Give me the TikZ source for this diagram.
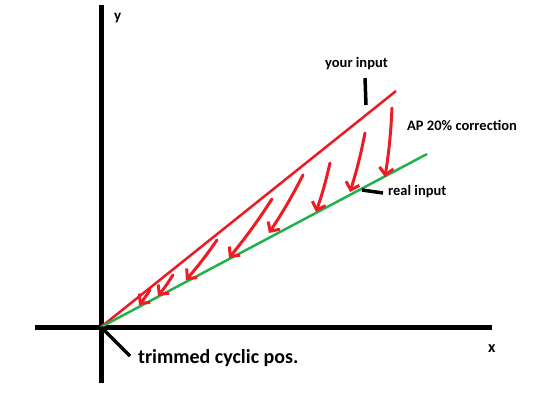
\documentclass[tikz,border=0pt]{standalone}
\usepackage{fontspec}
\setmainfont{Carlito}
\usetikzlibrary{arrows.meta}
\definecolor{pred}{RGB}{237,28,36}
\definecolor{pgreen}{RGB}{34,177,76}
\tikzset{
  axis/.style={line width=5pt,black},
  redline/.style={line width=2.5pt,pred},
  greenline/.style={line width=2.5pt,pgreen},
  corr/.style={line width=3pt,pred,line cap=round,-{Straight Barb[length=7pt,width=14pt]}},
  pointer/.style={line width=3.5pt,black},
  lbl/.style={inner sep=0pt,font=\bfseries\fontsize{14.5}{16}\selectfont,anchor=base west},
}
\begin{document}
\begin{tikzpicture}[x=1pt,y=-1pt]
\useasboundingbox (0,0) rectangle (542,394);
% axes
\coordinate (O) at (101,327);
\coordinate (ytop) at (101,5);
\coordinate (ybot) at (101,383);
\coordinate (xl) at (35,327);
\coordinate (xr) at (492,327);
\draw[axis] (ybot) -- (ytop);
\draw[axis] (xl) -- (xr);
\node[lbl,font=\bfseries\fontsize{15}{16}\selectfont] (ylab) at (114,20) {y};
\node[lbl,font=\bfseries\fontsize{16}{18}\selectfont] (xlab) at (488,352) {x};
% lines
\coordinate (redend) at (396,91);
\coordinate (greenend) at (427,154);
\draw[redline] (O) -- (redend);
\draw[greenline] (O) -- (greenend);
% correction arrows
\draw[corr] (392,108) to[bend left=3] (385,177);
\draw[corr] (365,133) to[bend left=3] (350,192);
\draw[corr] (330,163) to[bend left=3] (316,212);
\draw[corr] (303,175) to[bend left=3] (269,233);
\draw[corr] (272,199) to[bend left=3] (229,258);
\draw[corr] (217,240) to[bend left=3] (186,280);
\draw[corr] (173,275) to[bend left=3] (158,296);
\draw[corr] (150,290) to[bend left=3] (139,305);
% labels
\node[lbl] (your) at (325,67) {your input};
\coordinate (yourA) at (365,78);
\coordinate (yourB) at (366,105);
\draw[pointer] (yourA) -- (yourB);
\node[lbl] (ap) at (407,130) {AP 20\% correction};
\node[lbl] (real) at (388,195) {real input};
\coordinate (realA) at (362,190);
\coordinate (realB) at (383,193);
\draw[pointer] (realA) -- (realB);
\node[lbl,font=\bfseries\fontsize{20}{22}\selectfont] (trim) at (138,363) {trimmed cyclic pos.};
\coordinate (trimB) at (130,356);
\draw[pointer] (O) -- (trimB);
\end{tikzpicture}
\end{document}
